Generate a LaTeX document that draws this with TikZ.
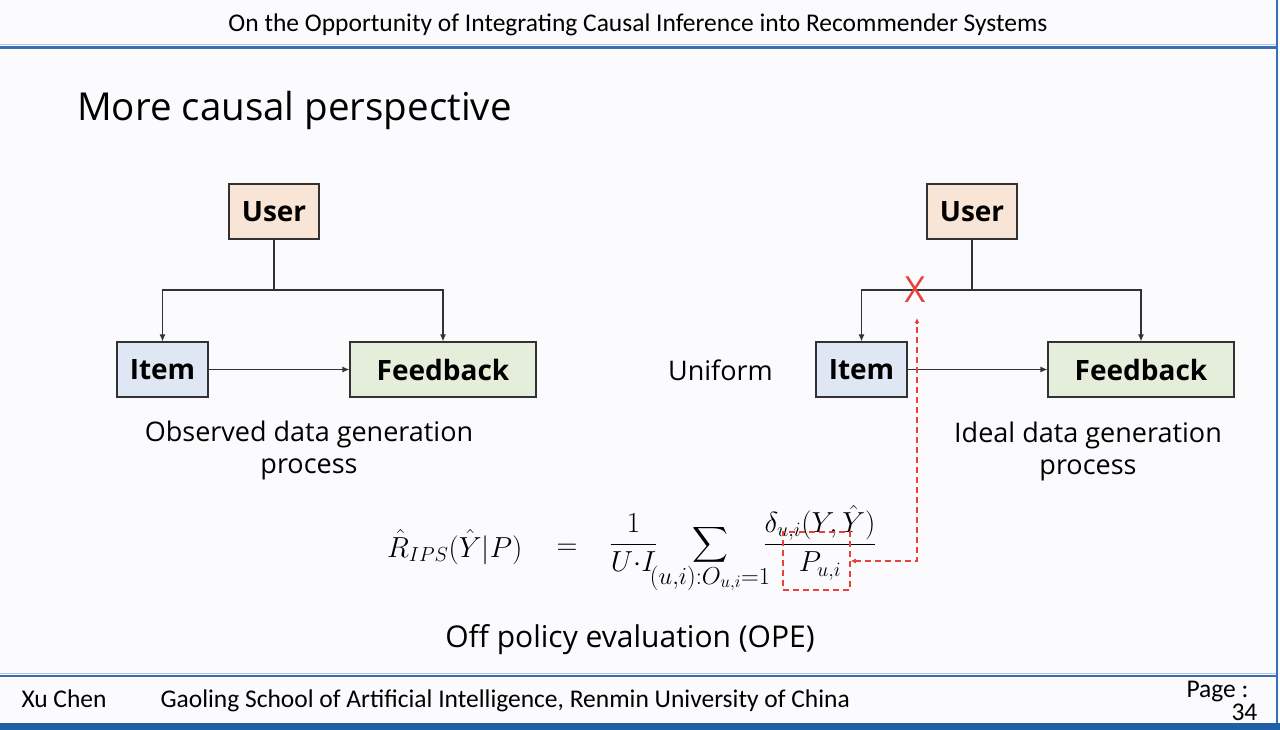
\RequirePackage{fix-cm}
\documentclass[tikz,border=0pt]{standalone}
\usepackage{amsmath}
\usepackage{fontspec}
\setmainfont{Open Sans}
\newfontfamily\hdfont{Carlito}
\usetikzlibrary{arrows.meta}

\definecolor{bg}{RGB}{251,251,254}
\definecolor{barblue}{RGB}{58,110,180}
\definecolor{lightbar}{RGB}{175,198,228}
\definecolor{bandblue}{RGB}{30,95,165}
\definecolor{userfill}{RGB}{249,229,214}
\definecolor{itemfill}{RGB}{222,231,243}
\definecolor{fbfill}{RGB}{228,238,219}
\definecolor{edge}{RGB}{50,50,50}
\definecolor{mark}{RGB}{232,65,58}

\tikzset{
  box/.style={draw=edge, line width=1.2pt, minimum height=55pt, inner sep=0pt,
    font=\fontsize{28}{32}\selectfont\bfseries},
  link/.style={draw=edge, line width=1.2pt},
  arr/.style={link, -{Latex[length=7pt,width=6pt]}},
  reddash/.style={draw=mark, line width=1.5pt, dash pattern=on 6pt off 4pt},
  lbl/.style={font=\fontsize{27}{32}\selectfont, align=center},
  hd/.style={font=\hdfont\fontsize{25.5}{25.5}\selectfont},
  ft/.style={font=\hdfont\fontsize{25.5}{25.5}\selectfont},
  eqn/.style={font=\fontsize{29}{34}\selectfont, inner sep=0pt},
}

\begin{document}
\begin{tikzpicture}[x=1pt,y=-1pt]
  \useasboundingbox (0,0) rectangle (1280,730);
  \fill[bg] (0,0) rectangle (1280,730);

  % header and footer frame
  \draw[lightbar, line width=1pt] (0,45) -- (1276,45);
  \draw[barblue, line width=3pt] (0,48) -- (1276,48);
  \draw[barblue, line width=1.5pt] (1277,0) -- (1277,723);
  \draw[lightbar, line width=1pt] (0,673) -- (1276,673);
  \draw[barblue, line width=2pt] (0,675.5) -- (1276,675.5);
  \fill[bandblue] (0,723) rectangle (1280,730);

  \node[hd, anchor=base] (head) at (638,32)
    {On the Opportunity of Integrating Causal Inference into Recommender Systems};
  \node[ft, anchor=base west] (author) at (18,707) {Xu Chen};
  \node[ft, anchor=base west] (school) at (157,707)
    {Gaoling School of Artificial Intelligence, Renmin University of China};
  \node[ft, anchor=base west] (page) at (1183,697) {Page :};
  \node[ft, anchor=base west] (pnum) at (1228,720) {34};

  \node[anchor=base west, font=\fontsize{38.5}{40}\selectfont, inner sep=0pt] (title) at (77,121)
    {More causal perspective};

  % observed process
  \node[box, fill=userfill, minimum width=90pt] (uL) at (274,211.5) {User};
  \node[box, fill=itemfill, minimum width=91pt] (iL) at (162.5,369.5) {Item};
  \node[box, fill=fbfill, minimum width=186pt] (fL) at (443,369.5) {Feedback};
  \coordinate (jL) at (274,290);
  \draw[link] (uL) -- (jL);
  \draw[arr] (jL) -| (iL);
  \draw[arr] (jL) -| (fL);
  \draw[arr] (iL) -- (fL);
  \node[lbl] (obs) at (309,450) {Observed data generation\\process};

  % ideal process
  \node[box, fill=userfill, minimum width=90pt] (uR) at (972,211.5) {User};
  \node[box, fill=itemfill, minimum width=91pt] (iR) at (861.5,369.5) {Item};
  \node[box, fill=fbfill, minimum width=186pt] (fR) at (1141,369.5) {Feedback};
  \coordinate (jR) at (972,290);
  \draw[link] (uR) -- (jR);
  \draw[arr] (jR) -| (iR);
  \draw[arr] (jR) -| (fR);
  \draw[arr] (iR) -- (fR);
  \node[lbl] (ideal) at (1088,451) {Ideal data generation\\process};
  \node[font=\fontsize{27}{32}\selectfont] (unif) at (720.5,370) {Uniform};
  \node[text=mark, font=\fontsize{36}{36}\selectfont, inner sep=0pt] (cut) at (915,290) {X};

  % IPS estimator
  \node[eqn, anchor=base west] (lhs) at (387,557) {$\hat{R}_{IPS}(\hat{Y}|P)$};
  \node[eqn, anchor=base] (eq) at (567,554) {$=$};
  \node[eqn, anchor=base] (norm) at (633.5,552) {$\displaystyle\frac{1}{U{\cdot}I}$};
  \node[eqn, anchor=base] (sum) at (710,552) {$\displaystyle\sum$};
  \node[eqn, font=\fontsize{35}{40}\selectfont, anchor=base] (range) at (710,584)
    {$\scriptstyle (u,i):O_{u,i}=1$};
  \node[eqn, anchor=base] (ratio) at (820,552)
    {$\displaystyle\frac{\delta_{u,i}(Y,\hat{Y})}{P_{u,i}}$};
  \node[draw=mark, line width=1.5pt, dash pattern=on 6pt off 4pt,
        minimum width=67pt, minimum height=58pt, inner sep=0pt] (pbox) at (816.5,561) {};
  \coordinate (xtip) at (917,318);
  \draw[reddash, {Latex[length=5pt,width=5pt]}-{Latex[length=5pt,width=5pt]}]
    (pbox.east) -| (xtip);

  \node[anchor=base, font=\fontsize{30}{30}\selectfont] (ope) at (630,647)
    {Off policy evaluation (OPE)};
\end{tikzpicture}
\end{document}
